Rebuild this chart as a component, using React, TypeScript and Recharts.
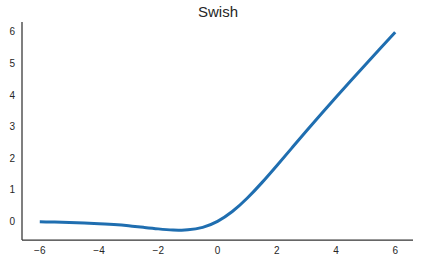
import React from 'react';
import { LineChart, Line, XAxis, YAxis } from 'recharts';

const xValues = [-6, -5.5, -5, -4.5, -4, -3.5, -3, -2.5, -2, -1.5, -1.25, -1, -0.5, 0, 0.5, 1, 1.5, 2, 2.5, 3, 3.5, 4, 4.5, 5, 5.5, 6];
const swishValues = [
  -0.015, -0.022, -0.033, -0.049, -0.072, -0.103, -0.142, -0.19, -0.238, -0.274, -0.278, -0.269, -0.189, 0,
  0.311, 0.731, 1.226, 1.762, 2.31, 2.858, 3.397, 3.928, 4.451, 4.967, 5.478, 5.985,
];
const xTicks = [-6, -4, -2, 0, 2, 4, 6];
const yTicks = [0, 1, 2, 3, 4, 5, 6];

const data = xValues.map((x, i) => ({ x, y: swishValues[i] }));

const font = '"Liberation Sans", Arial, sans-serif';
const tickStyle = { fontSize: 10, fill: '#262626', fontFamily: font };

export default function App() {
  return (
    <div style={{ position: 'relative', width: 421, height: 272, background: '#fff' }}>
      <style>{'body{margin:0}'}</style>
      <div
        style={{
          position: 'absolute',
          left: 0,
          width: 436,
          top: 3,
          textAlign: 'center',
          fontFamily: font,
          fontSize: 15,
          color: '#262626',
        }}
      >
        Swish
      </div>
      <LineChart width={421} height={272} data={data} margin={{ top: 22, right: 8, left: 0, bottom: 0 }}>
        <XAxis
          dataKey="x"
          type="number"
          domain={[-6.6, 6.6]}
          ticks={xTicks}
          tickLine={false}
          tickSize={0}
          tickMargin={7}
          height={32}
          tick={tickStyle}
          tickFormatter={(v: number) => String(v).replace('-', '\u2212')}
          axisLine={{ stroke: '#333', strokeWidth: 1.25 }}
        />
        <YAxis
          type="number"
          domain={[-0.59, 6.31]}
          ticks={yTicks}
          tickLine={false}
          tickSize={0}
          tickMargin={7}
          width={22}
          tick={tickStyle}
          axisLine={{ stroke: '#333', strokeWidth: 1.25 }}
        />
        <Line
          type="natural"
          dataKey="y"
          stroke="#1f6eb0"
          strokeWidth={3}
          dot={false}
          isAnimationActive={false}
        />
      </LineChart>
    </div>
  );
}
